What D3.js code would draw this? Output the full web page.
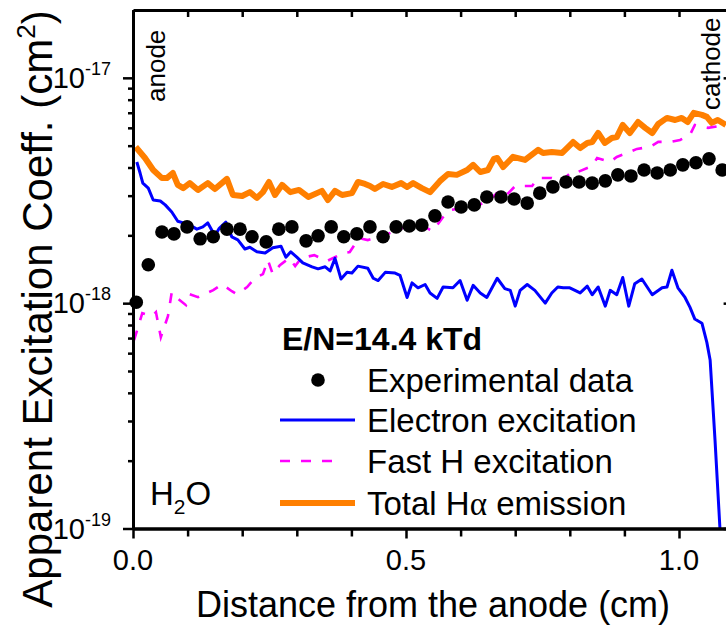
<!DOCTYPE html>
<html>
<head>
<meta charset="utf-8">
<script src="https://cdn.jsdelivr.net/npm/d3@7"></script>
<style>
  html, body { margin: 0; padding: 0; background: #fff; }
  svg { display: block; font-family: "Liberation Sans", Arial, sans-serif; }
</style>
</head>
<body>
<svg id="chart" width="726" height="625"></svg>
<script>
// Experimental apparent excitation coefficient (cm^2) vs distance from the anode (cm)
const distExp = [0.006, 0.028, 0.053, 0.075, 0.099, 0.123, 0.147, 0.172, 0.196, 0.218,
  0.244, 0.267, 0.291, 0.317, 0.339, 0.363, 0.386, 0.410, 0.434, 0.458,
  0.482, 0.506, 0.529, 0.553, 0.577, 0.601, 0.625, 0.648, 0.674, 0.698,
  0.722, 0.745, 0.769, 0.793, 0.817, 0.841, 0.865, 0.888, 0.912, 0.936,
  0.960, 0.984, 1.007, 1.031, 1.055, 1.079];
const expData = [1.01e-18, 1.48e-18, 2.07e-18, 2.03e-18, 2.18e-18, 1.93e-18, 1.97e-18, 2.13e-18, 2.13e-18, 1.97e-18,
  1.87e-18, 2.13e-18, 2.18e-18, 1.89e-18, 1.99e-18, 2.18e-18, 1.97e-18, 2.03e-18, 2.18e-18, 1.97e-18,
  2.18e-18, 2.20e-18, 2.22e-18, 2.44e-18, 2.81e-18, 2.67e-18, 2.73e-18, 2.96e-18, 2.96e-18, 2.90e-18,
  2.78e-18, 3.08e-18, 3.28e-18, 3.45e-18, 3.45e-18, 3.41e-18, 3.49e-18, 3.71e-18, 3.67e-18, 3.90e-18,
  3.78e-18, 3.90e-18, 4.11e-18, 4.20e-18, 4.37e-18, 3.90e-18];

// Electron-impact excitation
const distElec = [0.007, 0.013, 0.018, 0.028, 0.037, 0.050, 0.059, 0.071, 0.082, 0.092,
  0.104, 0.117, 0.128, 0.137, 0.150, 0.158, 0.170, 0.181, 0.192, 0.205,
  0.214, 0.227, 0.242, 0.256, 0.271, 0.280, 0.289, 0.300, 0.311, 0.328,
  0.339, 0.352, 0.361, 0.370, 0.381, 0.392, 0.401, 0.412, 0.430, 0.440,
  0.449, 0.462, 0.480, 0.489, 0.502, 0.511, 0.522, 0.535, 0.544, 0.557,
  0.568, 0.586, 0.599, 0.612, 0.623, 0.636, 0.648, 0.667, 0.681, 0.691,
  0.700, 0.709, 0.722, 0.736, 0.755, 0.767, 0.778, 0.788, 0.800, 0.819,
  0.832, 0.841, 0.852, 0.865, 0.874, 0.886, 0.897, 0.908, 0.919, 0.932,
  0.951, 0.969, 0.978, 0.987, 0.998, 1.011, 1.020, 1.029, 1.042, 1.051,
  1.057, 1.066, 1.075, 1.079];
const electronExc = [4.23e-18, 3.78e-18, 3.41e-18, 3.24e-18, 2.87e-18, 2.84e-18, 2.73e-18, 2.54e-18, 2.31e-18, 2.27e-18,
  2.22e-18, 2.13e-18, 2.18e-18, 2.27e-18, 1.99e-18, 2.15e-18, 2.29e-18, 1.97e-18, 1.91e-18, 1.74e-18,
  1.77e-18, 1.69e-18, 1.67e-18, 1.76e-18, 1.79e-18, 1.60e-18, 1.69e-18, 1.60e-18, 1.51e-18, 1.45e-18,
  1.42e-18, 1.45e-18, 1.39e-18, 1.58e-18, 1.28e-18, 1.37e-18, 1.36e-18, 1.46e-18, 1.43e-18, 1.29e-18,
  1.26e-18, 1.37e-18, 1.36e-18, 1.33e-18, 1.06e-18, 1.23e-18, 1.17e-18, 1.21e-18, 1.11e-18, 1.05e-18,
  1.18e-18, 1.17e-18, 1.26e-18, 1.03e-18, 1.20e-18, 1.11e-18, 1.06e-18, 1.29e-18, 1.16e-18, 1.14e-18,
  0.97e-18, 1.14e-18, 1.21e-18, 1.14e-18, 1.00e-18, 1.11e-18, 1.18e-18, 1.17e-18, 1.17e-18, 1.11e-18,
  1.19e-18, 1.09e-18, 1.18e-18, 0.97e-18, 1.14e-18, 1.09e-18, 1.30e-18, 0.97e-18, 1.22e-18, 1.28e-18,
  1.09e-18, 1.17e-18, 1.18e-18, 1.40e-18, 1.17e-18, 1.06e-18, 0.96e-18, 0.85e-18, 0.815e-18, 0.67e-18,
  0.56e-18, 0.246e-18, 0.10e-18, 0.072e-18];

// Fast H atom excitation
const distFastH = [0.002, 0.017, 0.035, 0.042, 0.051, 0.064, 0.071, 0.081, 0.097, 0.104,
  0.119, 0.147, 0.163, 0.181, 0.190, 0.209, 0.223, 0.238, 0.247, 0.256,
  0.269, 0.286, 0.297, 0.308, 0.332, 0.355, 0.385, 0.397, 0.414, 0.430,
  0.456, 0.480, 0.507, 0.538, 0.549, 0.568, 0.581, 0.604, 0.632, 0.648,
  0.667, 0.679, 0.700, 0.731, 0.742, 0.767, 0.782, 0.806, 0.815, 0.841,
  0.850, 0.874, 0.886, 0.910, 0.923, 0.947, 0.962, 0.984, 1.002, 1.020,
  1.029, 1.053, 1.075, 1.086];
const fastHExc = [0.685e-18, 0.903e-18, 0.876e-18, 0.912e-18, 0.706e-18, 0.876e-18, 1.119e-18, 1.052e-18, 0.980e-18, 1.096e-18,
  1.063e-18, 1.142e-18, 1.214e-18, 1.130e-18, 1.096e-18, 1.178e-18, 1.291e-18, 1.346e-18, 1.553e-18, 1.346e-18,
  1.475e-18, 1.585e-18, 1.460e-18, 1.585e-18, 1.634e-18, 1.537e-18, 1.669e-18, 1.686e-18, 1.945e-18, 1.905e-18,
  1.985e-18, 2.089e-18, 2.222e-18, 2.154e-18, 2.089e-18, 2.410e-18, 2.589e-18, 2.642e-18, 2.727e-18, 2.812e-18,
  3.083e-18, 2.929e-18, 3.311e-18, 3.311e-18, 3.594e-18, 3.594e-18, 3.448e-18, 3.861e-18, 3.822e-18, 4.064e-18,
  4.410e-18, 4.233e-18, 4.457e-18, 4.691e-18, 4.837e-18, 4.937e-18, 5.196e-18, 5.196e-18, 5.303e-18, 5.580e-18,
  6.18e-18, 6.00e-18, 6.12e-18, 6.31e-18];

// Total H-alpha emission
const distTotal = [0.005, 0.022, 0.037, 0.053, 0.062, 0.073, 0.082, 0.092, 0.104, 0.119,
  0.137, 0.150, 0.172, 0.183, 0.200, 0.214, 0.227, 0.238, 0.249, 0.260,
  0.273, 0.288, 0.304, 0.321, 0.346, 0.357, 0.370, 0.383, 0.401, 0.412,
  0.425, 0.434, 0.443, 0.458, 0.474, 0.491, 0.502, 0.513, 0.529, 0.544,
  0.562, 0.577, 0.593, 0.612, 0.623, 0.636, 0.650, 0.661, 0.667, 0.678,
  0.696, 0.718, 0.742, 0.751, 0.767, 0.786, 0.806, 0.819, 0.832, 0.841,
  0.852, 0.864, 0.877, 0.886, 0.897, 0.910, 0.925, 0.938, 0.951, 0.962,
  0.978, 0.993, 1.005, 1.016, 1.027, 1.042, 1.051, 1.060, 1.071, 1.086];
const totalEmission = [4.93e-18, 4.41e-18, 3.90e-18, 3.59e-18, 3.59e-18, 3.78e-18, 3.35e-18, 3.24e-18, 3.41e-18, 3.18e-18,
  3.41e-18, 3.21e-18, 3.56e-18, 3.02e-18, 2.99e-18, 3.11e-18, 2.93e-18, 3.11e-18, 3.45e-18, 3.02e-18,
  3.35e-18, 3.11e-18, 3.18e-18, 2.96e-18, 3.15e-18, 2.87e-18, 3.15e-18, 3.02e-18, 3.08e-18, 3.45e-18,
  3.38e-18, 3.31e-18, 3.21e-18, 3.38e-18, 3.28e-18, 3.41e-18, 3.28e-18, 3.41e-18, 3.24e-18, 3.11e-18,
  3.48e-18, 3.74e-18, 3.71e-18, 3.90e-18, 4.11e-18, 3.82e-18, 3.90e-18, 4.37e-18, 4.41e-18, 4.02e-18,
  4.46e-18, 4.32e-18, 4.79e-18, 4.64e-18, 4.69e-18, 4.64e-18, 5.19e-18, 4.88e-18, 5.14e-18, 5.19e-18,
  5.69e-18, 5.14e-18, 5.41e-18, 5.46e-18, 6.18e-18, 5.69e-18, 6.37e-18, 6.00e-18, 5.69e-18, 6.24e-18,
  6.64e-18, 6.50e-18, 6.64e-18, 6.37e-18, 6.99e-18, 6.85e-18, 6.71e-18, 6.31e-18, 6.50e-18, 6.18e-18];

// Axis ticks
const xMajorTicks = [0.0, 0.5, 1.0];
const xMinorTicks = [0.1, 0.2, 0.3, 0.4, 0.6, 0.7, 0.8, 0.9, 1.1];
const xTickLabels = ["0.0", "0.5", "1.0"];
const yMajorTicks = [1e-19, 1e-18, 1e-17];
const yTickExponents = ["-19", "-18", "-17"];
const yMinorTicks = [2e-19, 3e-19, 4e-19, 5e-19, 6e-19, 7e-19, 8e-19, 9e-19,
  2e-18, 3e-18, 4e-18, 5e-18, 6e-18, 7e-18, 8e-18, 9e-18];

const legendTitle = "E/N=14.4 kTd";
const seriesNames = ["Experimental data", "Electron excitation", "Fast H excitation", "Total H"];

const colors = { exp: "#000000", elec: "#0000ff", fastH: "#ff00ff", total: "#ff7f00" };

const svg = d3.select("#chart");
const x = d3.scaleLinear().domain([0, 1.1]).range([133, 733.6]);
const y = d3.scaleLog().domain([1e-19, 2e-17]).range([528.5, 10]);

svg.append("defs").append("clipPath").attr("id", "plotClip")
  .append("rect").attr("x", x(0)).attr("y", y(2e-17))
  .attr("width", x(1.1) - x(0)).attr("height", y(1e-19) - y(2e-17));

const plot = svg.append("g").attr("clip-path", "url(#plotClip)");

const line = (xs, ys) => d3.line()
  .x((d, i) => x(xs[i]))
  .y((d, i) => y(ys[i]))(ys);

// Total emission (thick orange)
plot.append("path").attr("d", line(distTotal, totalEmission))
  .attr("fill", "none").attr("stroke", colors.total).attr("stroke-width", 6)
  .attr("stroke-linejoin", "round");

// Fast H (dashed magenta)
plot.append("path").attr("d", line(distFastH, fastHExc))
  .attr("fill", "none").attr("stroke", colors.fastH).attr("stroke-width", 2.6)
  .attr("stroke-dasharray", "10,11");

// Electron excitation (blue)
plot.append("path").attr("d", line(distElec, electronExc))
  .attr("fill", "none").attr("stroke", colors.elec).attr("stroke-width", 3)
  .attr("stroke-linejoin", "round");

// Axes
const styleAxis = g => {
  g.selectAll(".domain").attr("stroke", "#000").attr("stroke-width", 3);
  g.selectAll(".tick line").attr("stroke", "#000").attr("stroke-width", 2.5);
  g.selectAll(".tick text").remove();
};

svg.append("g").attr("transform", `translate(0,${y(1e-19)})`)
  .call(d3.axisBottom(x).tickValues(xMajorTicks).tickSize(10).tickSizeOuter(0)).call(styleAxis);
svg.append("g").attr("transform", `translate(0,${y(1e-19)})`)
  .call(d3.axisBottom(x).tickValues(xMinorTicks).tickSize(8).tickSizeOuter(0)).call(styleAxis);
svg.append("g").attr("transform", `translate(0,${y(2e-17)})`)
  .call(d3.axisTop(x).tickValues(xMajorTicks.concat(xMinorTicks)).tickSize(-7).tickSizeOuter(0)).call(styleAxis);
svg.append("g").attr("transform", `translate(${x(0)},0)`)
  .call(d3.axisLeft(y).tickValues(yMajorTicks).tickSize(10).tickSizeOuter(0)).call(styleAxis);
svg.append("g").attr("transform", `translate(${x(0)},0)`)
  .call(d3.axisLeft(y).tickValues(yMinorTicks).tickSize(5).tickSizeOuter(0)).call(styleAxis);
svg.append("g").attr("transform", `translate(${x(1.1)},0)`)
  .call(d3.axisRight(y).tickValues(yMajorTicks).tickSize(-10).tickSizeOuter(0)).call(styleAxis);
svg.append("g").attr("transform", `translate(${x(1.1)},0)`)
  .call(d3.axisRight(y).tickValues(yMinorTicks).tickSize(-5).tickSizeOuter(0)).call(styleAxis);

// Experimental points drawn over the axis frame
svg.append("g").selectAll("circle").data(expData).join("circle")
  .attr("cx", (d, i) => x(distExp[i])).attr("cy", d => y(d))
  .attr("r", 6.8).attr("fill", colors.exp);

// Tick labels
const tickFont = 29;
svg.append("g").selectAll("text").data(xMajorTicks).join("text")
  .attr("x", d => x(d)).attr("y", 570)
  .attr("text-anchor", "middle").attr("font-size", tickFont)
  .text((d, i) => xTickLabels[i]);

const yl = svg.append("g").selectAll("text").data(yMajorTicks).join("text")
  .attr("x", 111).attr("y", d => y(d) + 10)
  .attr("text-anchor", "end").attr("font-size", tickFont);
yl.append("tspan").text("10");
yl.append("tspan").attr("dy", -13).attr("font-size", 18).text((d, i) => yTickExponents[i]);

// Axis titles
svg.append("text").attr("x", 433).attr("y", 617)
  .attr("text-anchor", "middle").attr("font-size", 36)
  .text("Distance from the anode (cm)");

const yt = svg.append("text")
  .attr("transform", "translate(52,309) rotate(-90)")
  .attr("text-anchor", "middle").attr("font-size", 42);
yt.append("tspan").text("Apparent Excitation Coeff. (cm");
yt.append("tspan").attr("dy", -17).attr("font-size", 26).text("2");
yt.append("tspan").attr("dy", 17).text(")");

// Electrode labels
svg.append("text").attr("transform", "translate(165,102) rotate(-90)")
  .attr("font-size", 26).text("anode");
svg.append("text").attr("transform", "translate(720,110) rotate(-90)")
  .attr("font-size", 26).text("cathode");

// Gas label
const gas = svg.append("text").attr("x", 150).attr("y", 505).attr("font-size", 33);
gas.append("tspan").text("H");
gas.append("tspan").attr("dy", 9).attr("font-size", 21).text("2");
gas.append("tspan").attr("dy", -9).text("O");

// Legend
const lg = svg.append("g");
lg.append("text").attr("x", 282).attr("y", 350).attr("font-size", 32)
  .attr("font-weight", "bold").text(legendTitle);
const rowY = [380, 420, 461, 503];
lg.append("circle").attr("cx", 318).attr("cy", rowY[0]).attr("r", 6.8).attr("fill", colors.exp);
lg.append("line").attr("x1", 280).attr("x2", 355).attr("y1", rowY[1]).attr("y2", rowY[1])
  .attr("stroke", colors.elec).attr("stroke-width", 3);
lg.append("line").attr("x1", 280).attr("x2", 340).attr("y1", rowY[2]).attr("y2", rowY[2])
  .attr("stroke", colors.fastH).attr("stroke-width", 2.6).attr("stroke-dasharray", "10,11");
lg.append("line").attr("x1", 280).attr("x2", 355).attr("y1", rowY[3]).attr("y2", rowY[3])
  .attr("stroke", colors.total).attr("stroke-width", 6);
const lt = lg.selectAll("text.entry").data(seriesNames).join("text").attr("class", "entry")
  .attr("x", 367).attr("y", (d, i) => rowY[i] + 12).attr("font-size", 33)
  .text(d => d);
lt.filter((d, i) => i === 3).append("tspan").style("font-family", "Liberation Serif, serif").text("\u03b1");
lt.filter((d, i) => i === 3).append("tspan").text(" emission");
</script>
</body>
</html>
